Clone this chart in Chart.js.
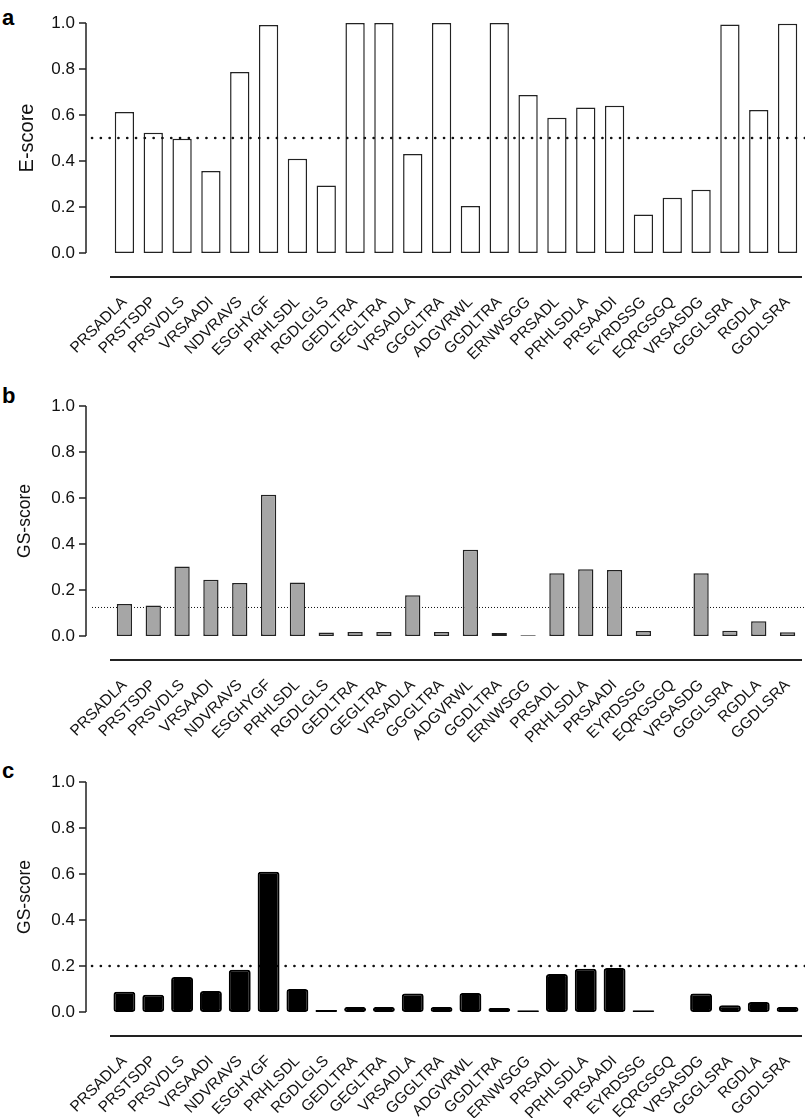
<!DOCTYPE html>
<html>
<head>
<meta charset="utf-8">
<script src="https://cdn.jsdelivr.net/npm/chart.js@4"></script>
<style>
body { margin: 0; background: #fff; width: 805px; height: 1118px; position: relative; overflow: hidden; }
.panel { position: absolute; left: 0; width: 805px; }
.tag { position: absolute; left: 2px; font: bold 22px "Liberation Sans", Arial, sans-serif; line-height: 1; color: #000; }
</style>
</head>
<body>
<div class="tag" style="top:7px">a</div>
<div class="panel" style="top:0;height:375px"><canvas id="chartA"></canvas></div>
<div class="tag" style="top:385px">b</div>
<div class="panel" style="top:383px;height:375px"><canvas id="chartB"></canvas></div>
<div class="tag" style="top:760px">c</div>
<div class="panel" style="top:759px;height:359px"><canvas id="chartC"></canvas></div>
<script>
const peptides = ['PRSADLA', 'PRSTSDP', 'PRSVDLS', 'VRSAADI', 'NDVRAVS', 'ESGHYGF', 'PRHLSDL', 'RGDLGLS',
    'GEDLTRA', 'GEGLTRA', 'VRSADLA', 'GGGLTRA', 'ADGVRWL', 'GGDLTRA', 'ERNWSGG', 'PRSADL',
    'PRHLSDLA', 'PRSAADI', 'EYRDSSG', 'EQRGSGQ', 'VRSASDG', 'GGGLSRA', 'RGDLA', 'GGDLSRA'];
const eScores = [0.613, 0.523, 0.497, 0.357, 0.787, 0.991, 0.41, 0.294, 1.0, 1.0, 0.43, 1.0,
    0.204, 1.0, 0.687, 0.588, 0.633, 0.64, 0.167, 0.24, 0.275, 0.994, 0.622, 0.997];
const gsScoresB = [0.139, 0.133, 0.302, 0.245, 0.23, 0.614, 0.233, 0.015, 0.017, 0.017, 0.177, 0.017,
    0.375, 0.013, 0.003, 0.273, 0.29, 0.287, 0.022, null, 0.273, 0.023, 0.064, 0.016];
const gsScoresC = [0.088, 0.075, 0.152, 0.091, 0.184, 0.61, 0.10, 0.009, 0.022, 0.022, 0.08, 0.022,
    0.083, 0.017, 0.008, 0.165, 0.188, 0.191, 0.008, null, 0.08, 0.029, 0.043, 0.022];
const yTicks = [0, 0.2, 0.4, 0.6, 0.8, 1.0];
const eCut = 0.5;
const gsCutB = 0.124;
const gsCutC = 0.2;

const fontFamily = '"Liberation Sans", Arial, sans-serif';

function drawCut(chart, o) {
    const ctx = chart.ctx, y = chart.scales.y.getPixelForValue(o.cut);
    ctx.save();
    ctx.strokeStyle = '#111';
    ctx.lineWidth = o.dotWidth;
    ctx.lineCap = o.round ? 'round' : 'butt';
    ctx.setLineDash(o.dash);
    ctx.beginPath();
    ctx.moveTo(chart.chartArea.left - 18, y);
    ctx.lineTo(chart.width, y);
    ctx.stroke();
    ctx.restore();
}

// R style axes: detached y axis and a plain line under the bars
const rAxes = {
    id: 'rAxes',
    beforeDatasetsDraw(chart, args, o) {
        if (!o.lineOnTop) drawCut(chart, o);
    },
    afterDatasetsDraw(chart, args, o) {
        if (o.lineOnTop) drawCut(chart, o);
        const ctx = chart.ctx, ys = chart.scales.y, area = chart.chartArea;
        const x0 = area.left - 24;
        ctx.save();
        ctx.strokeStyle = '#222';
        ctx.lineWidth = 1.5;
        ctx.beginPath();
        ctx.moveTo(x0, ys.getPixelForValue(0));
        ctx.lineTo(x0, ys.getPixelForValue(1));
        yTicks.forEach(v => {
            ctx.moveTo(x0 - 7, ys.getPixelForValue(v));
            ctx.lineTo(x0, ys.getPixelForValue(v));
        });
        ctx.stroke();
        ctx.beginPath();
        ctx.lineWidth = 1.8;
        ctx.moveTo(area.left, area.bottom + 24);
        ctx.lineTo(area.right, area.bottom + 24);
        ctx.stroke();
        ctx.restore();
    }
};

function barPanel(id, datas, style) {
    const data = {
        labels: peptides,
        datasets: [{
                data: datas,
                backgroundColor: style.fill,
                borderColor: style.border,
                borderWidth: style.borderWidth,
                borderRadius: style.radius || 0,
                borderSkipped: false,
                barPercentage: style.barPct,
                categoryPercentage: 1,
                clip: false
            }]
    };
    const config = {
        type: 'bar',
        data: data,
        plugins: [rAxes],
        options: {
            responsive: true,
            maintainAspectRatio: false,
            animation: false,
            layout: {padding: {top: 23, right: 3, left: 0, bottom: 0}},
            plugins: {
                legend: {display: false},
                tooltip: {enabled: false},
                rAxes: style.cut
            },
            scales: {
                x: {
                    grid: {display: false, drawTicks: false},
                    border: {display: false},
                    ticks: {
                        autoSkip: false, maxRotation: 45, minRotation: 45, padding: 40,
                        color: '#111', font: {family: fontFamily, size: 15.5}
                    },
                    afterFit(s) {
                        s.height = style.height - 253;
                        s.paddingLeft = 0;
                        s.paddingRight = 0;
                    }
                },
                y: {
                    min: 0, max: 1,
                    grid: {display: false, drawTicks: false},
                    border: {display: false},
                    ticks: {
                        stepSize: 0.2, padding: 35, color: '#111',
                        font: {family: fontFamily, size: 17},
                        callback: v => v.toFixed(1)
                    },
                    title: {
                        display: true, text: style.title, color: '#111',
                        font: {family: fontFamily, size: style.titleSize},
                        padding: {top: 15, bottom: 0}
                    },
                    afterFit(s) {
                        s.width = 110;
                        s.paddingTop = 0;
                        s.paddingBottom = 0;
                    }
                }
            }
        }
    };
    let ctx = document.getElementById(id).getContext("2d")
    new Chart(ctx, config)
}

barPanel('chartA', eScores, {
    fill: '#ffffff', border: '#222', borderWidth: 1.5, barPct: 0.67, height: 375,
    title: 'E-score', titleSize: 20,
    cut: {cut: eCut, dash: [0.1, 8.7], dotWidth: 2.6, round: true, lineOnTop: true}
});
barPanel('chartB', gsScoresB, {
    fill: '#a6a6a6', border: '#222', borderWidth: 1.5, barPct: 0.53, height: 375,
    title: 'GS-score', titleSize: 17.5,
    cut: {cut: gsCutB, dash: [1, 2], dotWidth: 1, round: false, lineOnTop: false}
});
barPanel('chartC', gsScoresC, {
    fill: '#000000', border: '#000000', borderWidth: 2, radius: 3, barPct: 0.76, height: 359,
    title: 'GS-score', titleSize: 17.5,
    cut: {cut: gsCutC, dash: [0.1, 8.7], dotWidth: 2.6, round: true, lineOnTop: false}
});
</script>
</body>
</html>
